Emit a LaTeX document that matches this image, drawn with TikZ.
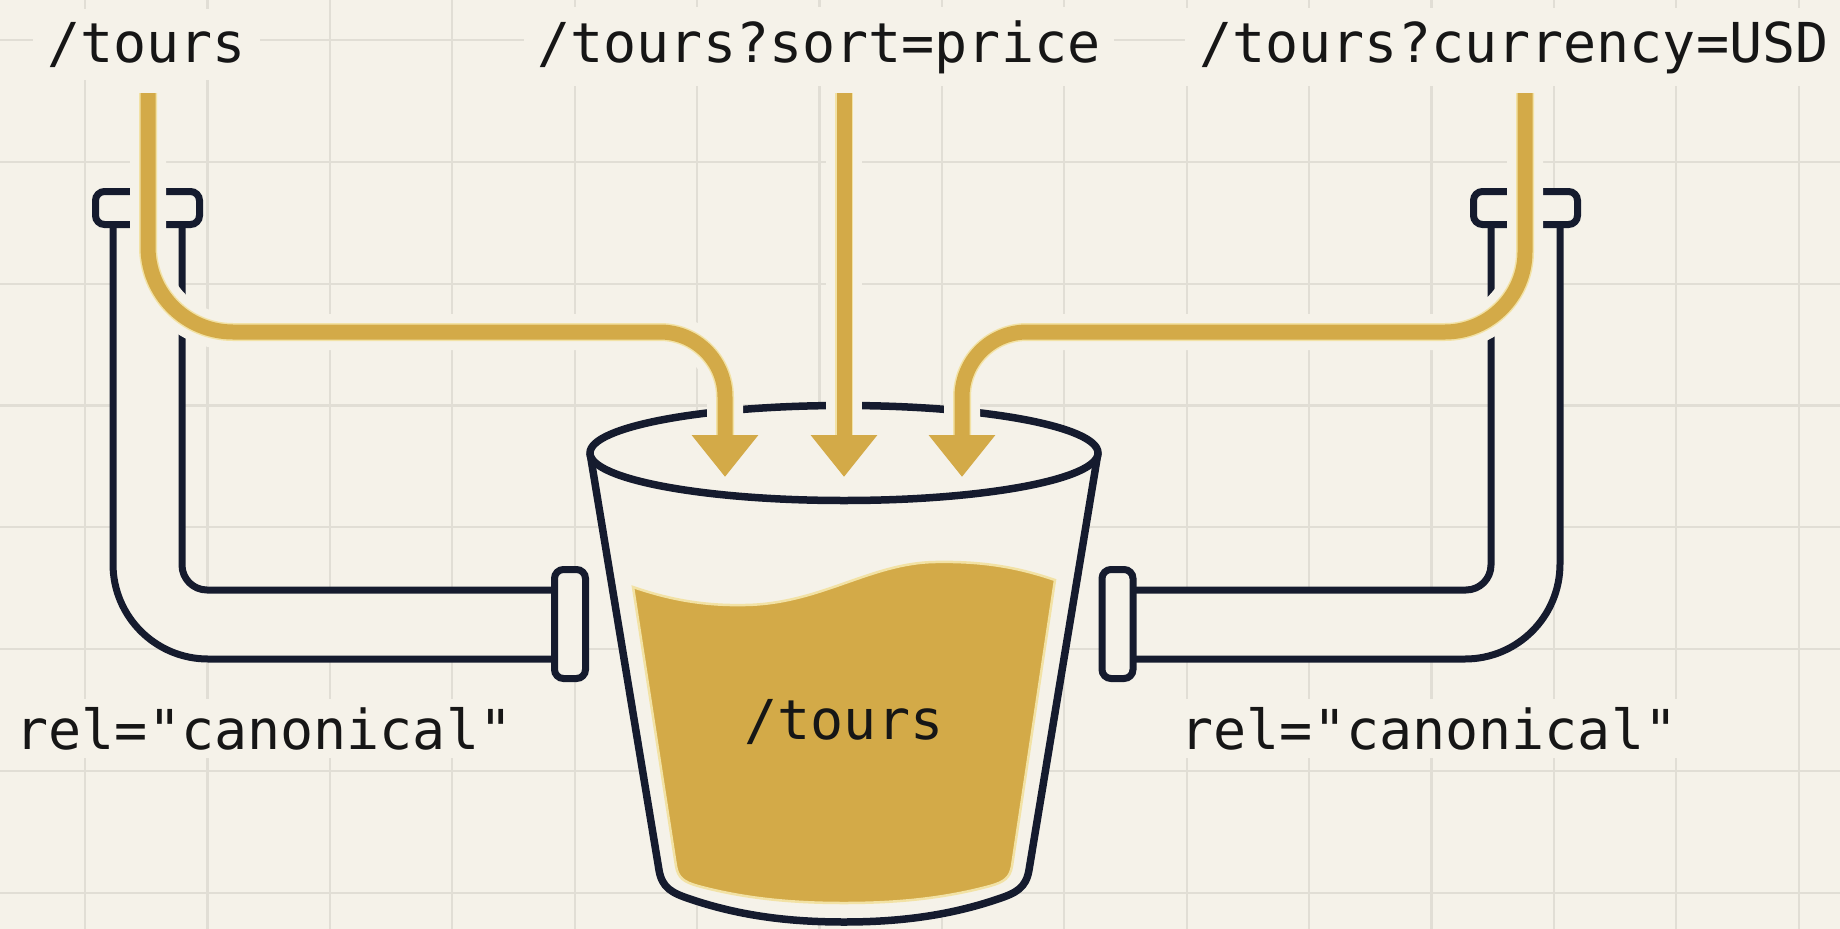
\documentclass[tikz,border=0pt]{standalone}
\usepackage{fontspec}
\newfontfamily\codefont{DejaVu Sans Mono}[Ligatures=TeXOff]
\usetikzlibrary{arrows.meta}
\definecolor{paper}{RGB}{245,242,233}
\definecolor{gridline}{RGB}{225,222,213}
\definecolor{navy}{RGB}{21,27,46}
\definecolor{gold}{RGB}{211,170,72}
\definecolor{goldedge}{RGB}{242,226,165}
\definecolor{ink}{RGB}{22,22,22}
\tikzset{
  code/.style={font=\codefont\fontsize{55}{60}\selectfont, text=ink},
  urlbox/.style={code, fill=paper, inner xsep=14pt, inner ysep=13pt, anchor=base},
  relbox/.style={code, fill=paper, inner xsep=14pt, inner ysep=8pt, anchor=base},
  pipeline/.style={draw=navy, line width=7pt, line cap=round, line join=round},
  flange/.style={draw=navy, fill=paper, line width=7pt, rounded corners=9pt, inner sep=0pt},
  halo/.style={draw=paper, line width=36pt},
  glow/.style={draw=goldedge, line width=18pt},
  flow/.style={draw=gold, line width=15pt, -{Triangle[width=64pt,length=42pt]}},
}
\begin{document}
\begin{tikzpicture}[x=1pt,y=-1pt]
\useasboundingbox (0,0) rectangle (1840,929);
\fill[paper] (0,0) rectangle (1840,929);

% squared paper
\foreach \i in {0,...,14}
  \draw[gridline, line width=2.2pt] ({85+122.4*\i},0) -- ({85+122.4*\i},929);
\foreach \j in {0,...,7}
  \draw[gridline, line width=2.2pt] (0,{40+121.8*\j}) -- (1840,{40+121.8*\j});

% URL labels
\node[urlbox] (u1) at (146.5,62) {/tours};
\node[urlbox] (u2) at (819,62) {/tours?sort=price};
\node[urlbox] (u3) at (1514,62) {/tours?currency=USD};
\node[relbox] (r1) at (264,749) {rel="canonical"};
\node[relbox] (r2) at (1429,749) {rel="canonical"};

% left pipe
\fill[paper] (113,224) -- (113,564) .. controls (113,616.5) and (155.5,659) .. (208,659)
  -- (555,659) -- (555,590) -- (207,590) .. controls (193.2,590) and (182,578.8) .. (182,565)
  -- (182,224) -- cycle;
\draw[pipeline] (113,224.5) -- (113,564) .. controls (113,616.5) and (155.5,659) .. (208,659) -- (554.5,659);
\draw[pipeline] (182,224.5) -- (182,565) .. controls (182,578.8) and (193.2,590) .. (207,590) -- (554.5,590);

% right pipe
\fill[paper] (1560,224) -- (1560,564) .. controls (1560,616.5) and (1517.5,659) .. (1465,659)
  -- (1133,659) -- (1133,590) -- (1466,590) .. controls (1479.8,590) and (1491,578.8) .. (1491,565)
  -- (1491,224) -- cycle;
\draw[pipeline] (1560,224.5) -- (1560,564) .. controls (1560,616.5) and (1517.5,659) .. (1465,659) -- (1133,659);
\draw[pipeline] (1491,224.5) -- (1491,565) .. controls (1491,578.8) and (1479.8,590) .. (1466,590) -- (1133,590);

% flanges
\node[flange, minimum width=104pt, minimum height=33pt] (fa) at (147.5,208) {};
\node[flange, minimum width=104pt, minimum height=33pt] (fb) at (1525.5,208) {};
\node[flange, minimum width=31pt, minimum height=109pt] (fc) at (570,624) {};
\node[flange, minimum width=31pt, minimum height=109pt] (fd) at (1117.5,624) {};

% bucket body
\filldraw[draw=navy, fill=paper, line width=7.5pt, line join=round]
  (590,453) -- (659,870) .. controls (662,888) and (672,893) .. (690,899)
  .. controls (740,916) and (790,922) .. (844,922)
  .. controls (898,922) and (948,916) .. (998,899)
  .. controls (1016,893) and (1026,888) .. (1029,870) -- (1098,453);

% liquid
\filldraw[fill=gold, draw=goldedge, line width=2.5pt]
  (633,587) -- (676,866) .. controls (678,878) and (684,882) .. (698,886)
  .. controls (750,900) and (800,903) .. (844,903)
  .. controls (888,903) and (938,900) .. (990,886)
  .. controls (1004,882) and (1010,878) .. (1012,866) -- (1055,580)
  .. controls (1020,568) and (985,561) .. (935,562)
  .. controls (870,563) and (820,604) .. (745,605)
  .. controls (700,606) and (665,598) .. (633,587) -- cycle;
\node[code, anchor=base] (lbl) at (844,739) {/tours};

% rim
\draw[navy, fill=paper, line width=7.5pt] (844,453) ellipse [x radius=254, y radius=47.5];

% flows into the bucket
\coordinate (s1) at (148,93);   \coordinate (e1) at (725,477);
\coordinate (s2) at (844,93);   \coordinate (e2) at (844,477);
\coordinate (s3) at (1525,93);  \coordinate (e3) at (962,477);

\foreach \st in {halo,glow}{
  \draw[\st] (s1) -- (148,247) .. controls (148,294) and (186,332) .. (233,332) -- (660,332)
    .. controls (696,332) and (725,361) .. (725,397) -- (725,440);
  \draw[\st] (s2) -- (844,440);
  \draw[\st] (s3) -- (1525,252) .. controls (1525,296) and (1489,332) .. (1445,332) -- (1027,332)
    .. controls (991,332) and (962,361) .. (962,397) -- (962,440);
}
\draw[flow] (s1) -- (148,247) .. controls (148,294) and (186,332) .. (233,332) -- (660,332)
  .. controls (696,332) and (725,361) .. (725,397) -- (e1);
\draw[flow] (s2) -- (e2);
\draw[flow] (s3) -- (1525,252) .. controls (1525,296) and (1489,332) .. (1445,332) -- (1027,332)
  .. controls (991,332) and (962,361) .. (962,397) -- (e3);
\end{tikzpicture}
\end{document}
